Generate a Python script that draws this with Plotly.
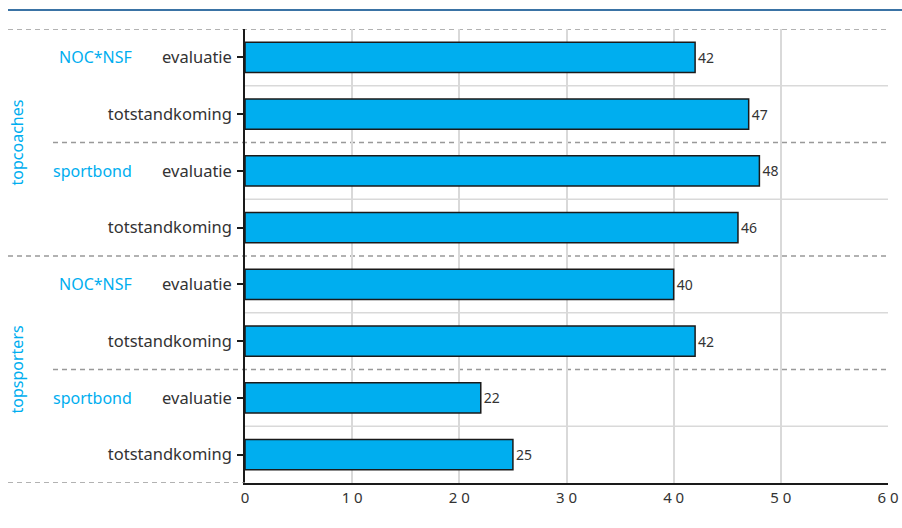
import plotly.graph_objects as go

groups = ["topcoaches", "topsporters"]
subgroups = ["NOC*NSF", "sportbond", "NOC*NSF", "sportbond"]
categories = ["evaluatie", "totstandkoming", "evaluatie", "totstandkoming",
              "evaluatie", "totstandkoming", "evaluatie", "totstandkoming"]
values = [42, 47, 48, 46, 40, 42, 22, 25]
x_ticks = [0, 10, 20, 30, 40, 50, 60]
x_ticklabels = ["0", "1 0", "2 0", "3 0", "4 0", "5 0", "6 0"]

positions = list(range(len(categories)))

W, H = 902, 528
L, T = 245, 29
R = W - 888
B = H - 483
pw = W - L - R
ph = H - T - B

def px_to_paper(px):
    return (px - L) / pw

def py_to_paper(py):
    return 1 - (py - T) / ph

fig = go.Figure()
fig.add_trace(go.Bar(
    x=values, y=positions, orientation="h",
    marker=dict(color="#00AEEF", line=dict(color="#1a1a1a", width=1.5)),
    width=0.53,
    text=[str(v) for v in values], textposition="outside",
    textfont=dict(size=14, color="#333333"),
    cliponaxis=False, hoverinfo="skip",
))

shapes = []
# light solid horizontal lines within pairs
for yb in [0.5, 2.5, 4.5, 6.5]:
    shapes.append(dict(type="line", xref="paper", yref="y", x0=0, x1=1, y0=yb, y1=yb,
                       line=dict(color="#d9d9d9", width=1.5), layer="below"))
# dashed group separators
dash_specs = [(-0.5, 8), (1.5, 53), (3.5, 8), (5.5, 53)]
for yb, xs in dash_specs:
    shapes.append(dict(type="line", xref="paper", yref="y", x0=px_to_paper(xs), x1=1,
                       y0=yb, y1=yb, line=dict(color="#999999", width=1.5, dash="5px,4px"),
                       layer="below"))
shapes.append(dict(type="line", xref="paper", yref="y", x0=px_to_paper(8), x1=0,
                   y0=7.5, y1=7.5, line=dict(color="#999999", width=1.5, dash="5px,4px")))
# top blue rule
ytop = py_to_paper(10)
shapes.append(dict(type="line", xref="paper", yref="paper", x0=px_to_paper(8), x1=px_to_paper(902),
                   y0=ytop, y1=ytop, line=dict(color="#3a73a5", width=2)))

annotations = []
for i, sg in enumerate(subgroups):
    annotations.append(dict(text=sg, xref="paper", yref="y", x=px_to_paper(134), y=2 * i,
                            xanchor="right", yanchor="middle", showarrow=False,
                            font=dict(size=16, color="#00AEEF")))
for i, g in enumerate(groups):
    annotations.append(dict(text=g, xref="paper", yref="y", x=px_to_paper(16), y=4 * i + 1.5,
                            xanchor="center", yanchor="middle", showarrow=False, textangle=-90,
                            font=dict(size=16, color="#00AEEF")))

fig.update_layout(
    width=W, height=H,
    margin=dict(l=L, r=R, t=T, b=B, autoexpand=False),
    paper_bgcolor="white", plot_bgcolor="white",
    font=dict(family="Noto Sans, Open Sans, sans-serif", color="#333333"),
    showlegend=False,
    shapes=shapes, annotations=annotations,
    bargap=0.47,
)
fig.update_xaxes(range=[0, 60], tickvals=x_ticks, ticktext=x_ticklabels,
                 showgrid=True, gridcolor="#d9d9d9", gridwidth=1.5,
                 showline=True, linecolor="#1a1a1a", linewidth=2,
                 ticks="", tickfont=dict(size=15, color="#333333"), zeroline=False,
                 automargin=False, fixedrange=True)
fig.update_yaxes(range=[7.5, -0.5], tickvals=positions, ticktext=categories,
                 showgrid=False, showline=True, linecolor="#1a1a1a", linewidth=1.5,
                 ticks="outside", ticklen=6, tickcolor="#1a1a1a", tickwidth=1.5,
                 ticklabelstandoff=2, tickfont=dict(size=16.5, color="#333333"),
                 zeroline=False, automargin=False, fixedrange=True)

fig.write_html("out.html", config={"displayModeBar": False},
               post_script="document.body.style.margin='0';document.body.style.overflow='hidden';")
